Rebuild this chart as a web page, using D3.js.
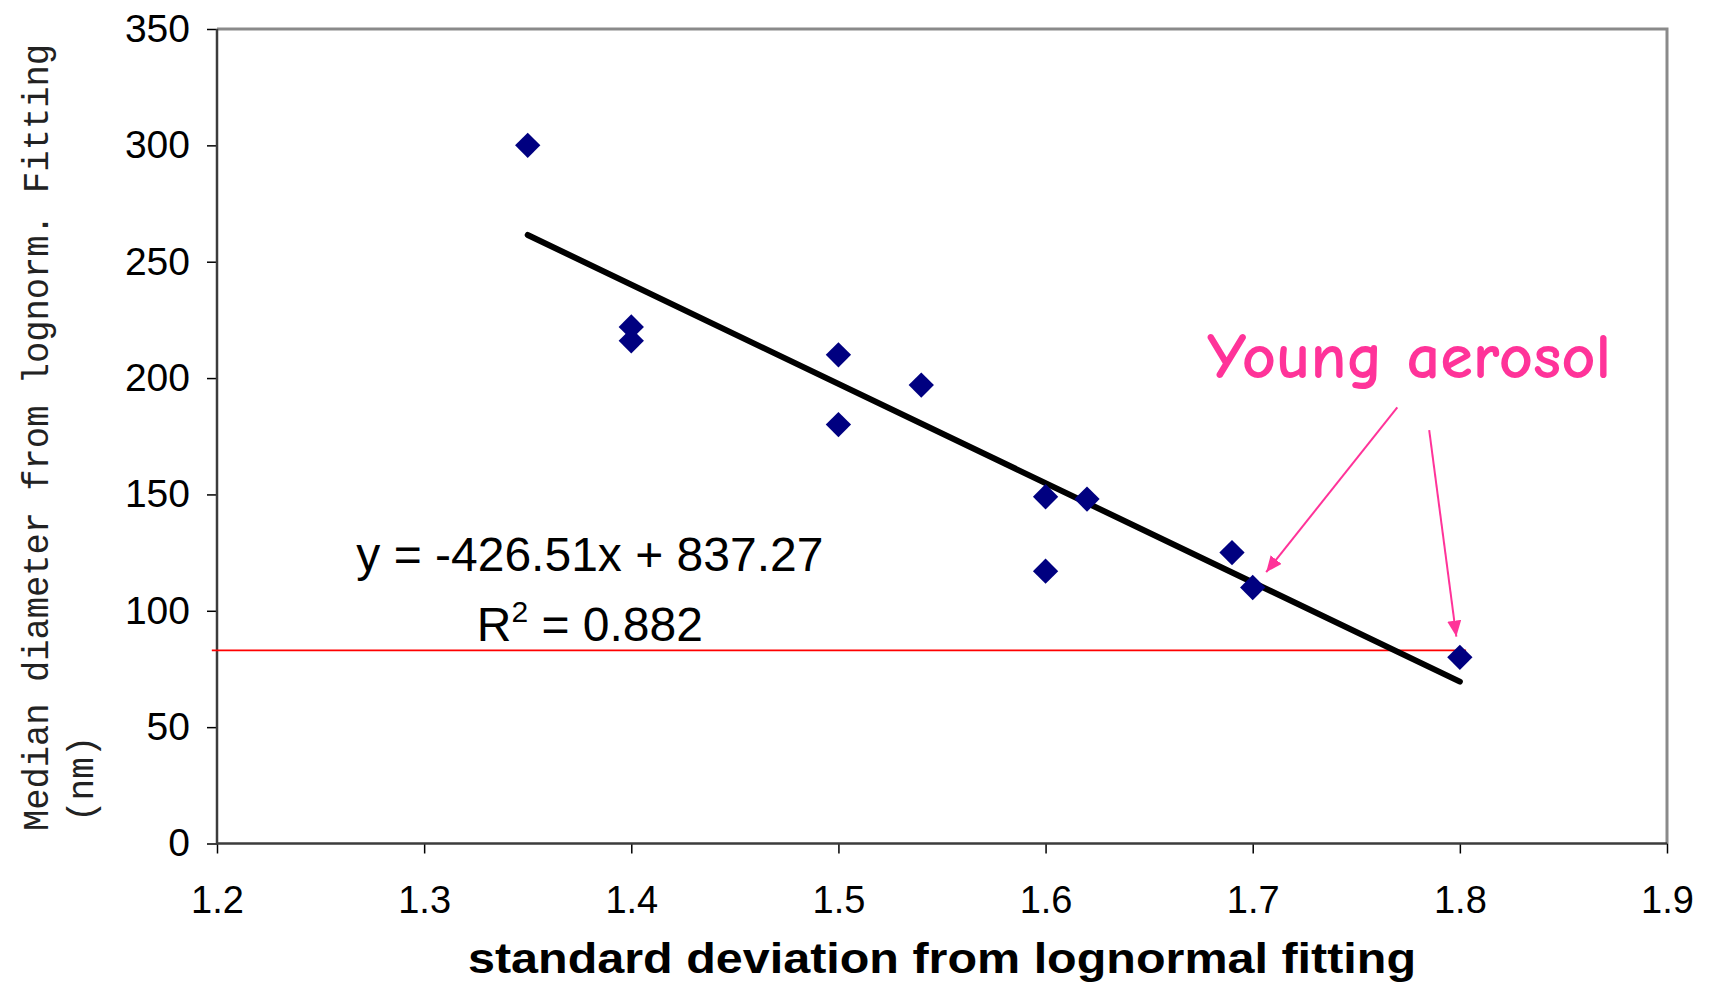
<!DOCTYPE html>
<html>
<head>
<meta charset="utf-8">
<script src="https://cdn.jsdelivr.net/npm/d3@7/dist/d3.min.js"></script>
<style>
  body { margin: 0; background: #fff; }
  svg { display: block; }
</style>
</head>
<body>
<div id="chart"></div>
<script>
// data
const sigma    = [1.35, 1.40, 1.40, 1.50, 1.50, 1.54, 1.60, 1.62, 1.60, 1.69, 1.70, 1.80];
const diameter = [300, 222, 216, 210, 180, 197, 149, 148, 117, 125, 110, 80];

const xTicks = [1.2, 1.3, 1.4, 1.5, 1.6, 1.7, 1.8, 1.9];
const yTicks = [0, 50, 100, 150, 200, 250, 300, 350];

// trend line from the fitted equation, drawn over the data range
const slope = -426.51, intercept = 837.27;
const trendX = [1.35, 1.80];

// red reference line (value, x extent)
const refValue = 83;
const refX = [1.1975, 1.803];

// annotation arrows, [start, tip] in data units
const arrows = [
  [[1.7698, 187.4], [1.7065, 116.6]],
  [[1.7852, 177.6], [1.7983, 88.9]]
];

const W = 1714, H = 986;
const svg = d3.select("#chart").append("svg").attr("width", W).attr("height", H);

const x = d3.scaleLinear().domain([1.2, 1.9]).range([217, 1667]);
const y = d3.scaleLinear().domain([0, 350]).range([843.5, 29]);

const FONT = "'Liberation Sans', Arial, sans-serif";

// plot frame: grey top/right
svg.append("path")
  .attr("d", `M${x(1.2)},${y(350)}H${x(1.9)}V${y(0)}`)
  .attr("fill", "none").attr("stroke", "#8a8a8a").attr("stroke-width", 3);

// axes
const gx = svg.append("g").attr("transform", `translate(0,${y(0)})`)
  .call(d3.axisBottom(x).tickValues(xTicks).tickSize(10).tickPadding(33).tickFormat(d3.format(".1f")));
const gy = svg.append("g").attr("transform", `translate(${x(1.2)},0)`)
  .call(d3.axisLeft(y).tickValues(yTicks).tickSize(10).tickPadding(17).tickFormat(d3.format("d")));

[gx, gy].forEach(g => {
  g.select(".domain").remove();
  g.selectAll(".tick line").attr("stroke", "#000").attr("stroke-width", 1.5);
  g.selectAll(".tick text").attr("fill", "#000").style("font-family", FONT);
});
gx.selectAll(".tick text").style("font-size", "38px");
gy.selectAll(".tick text").style("font-size", "39px");

svg.append("path")
  .attr("d", `M${x(1.2)},${y(350)}V${y(0)}H${x(1.9)}`)
  .attr("fill", "none").attr("stroke", "#3c3c3c").attr("stroke-width", 2.5);

// red reference line
svg.append("line")
  .attr("x1", x(refX[0])).attr("x2", x(refX[1]))
  .attr("y1", y(refValue)).attr("y2", y(refValue))
  .attr("stroke", "#ff0000").attr("stroke-width", 1.6);

// trend line
svg.append("line")
  .attr("x1", x(trendX[0])).attr("y1", y(slope * trendX[0] + intercept))
  .attr("x2", x(trendX[1])).attr("y2", y(slope * trendX[1] + intercept))
  .attr("stroke", "#000").attr("stroke-width", 6).attr("stroke-linecap", "round");

// points (diamonds)
const diamond = d3.symbol().type(d3.symbolSquare).size(320);
svg.append("g").selectAll("path")
  .data(sigma.map((s, i) => [s, diameter[i]]))
  .join("path")
  .attr("d", diamond)
  .attr("transform", d => `translate(${x(d[0])},${y(d[1])}) rotate(45)`)
  .attr("fill", "#000080");

// equation text
const eq = svg.append("g").style("font-family", FONT).attr("fill", "#000");
eq.append("text")
  .attr("x", x(1.38)).attr("y", y(117))
  .attr("text-anchor", "middle").style("font-size", "48px")
  .text("y = -426.51x + 837.27");
const r2 = eq.append("text")
  .attr("x", x(1.38)).attr("y", y(87))
  .attr("text-anchor", "middle").style("font-size", "48px");
r2.append("tspan").text("R");
r2.append("tspan").attr("dy", -19).style("font-size", "30px").text("2");
r2.append("tspan").attr("dy", 19).text(" = 0.882");

// annotation
const pink = "#ff3399";
svg.append("defs").append("marker")
  .attr("id", "arrow").attr("viewBox", "0 0 16 14")
  .attr("refX", 16).attr("refY", 7)
  .attr("markerWidth", 16).attr("markerHeight", 14)
  .attr("markerUnits", "userSpaceOnUse").attr("orient", "auto")
  .append("path").attr("d", "M0,0L16,7L0,14Z").attr("fill", pink);

svg.append("g").selectAll("line")
  .data(arrows)
  .join("line")
  .attr("x1", d => x(d[0][0])).attr("y1", d => y(d[0][1]))
  .attr("x2", d => x(d[1][0])).attr("y2", d => y(d[1][1]))
  .attr("stroke", pink).attr("stroke-width", 2)
  .attr("marker-end", "url(#arrow)");

svg.append("text")
  .attr("x", x(1.678)).attr("y", y(200))
  .attr("fill", pink)
  .attr("textLength", 404).attr("lengthAdjust", "spacingAndGlyphs")
  .style("font-family", "'Comic Sans MS', 'Comic Neue', 'DejaVu Sans', sans-serif")
  .style("font-size", "64px").style("font-weight", "bold")
  .text("Young aerosol");

// axis titles
svg.append("text")
  .attr("x", (x(1.2) + x(1.9)) / 2).attr("y", 973)
  .attr("text-anchor", "middle")
  .style("font-family", FONT).style("font-size", "42px").style("font-weight", "bold")
  .attr("textLength", 948).attr("lengthAdjust", "spacingAndGlyphs")
  .text("standard deviation from lognormal fitting");

const mono = "'Liberation Mono', 'DejaVu Sans Mono', monospace";
svg.append("text")
  .attr("transform", "translate(48,831) rotate(-90)")
  .attr("fill", "#222")
  .attr("textLength", 787).attr("lengthAdjust", "spacingAndGlyphs")
  .style("font-family", mono).style("font-size", "36px")
  .text("Median diameter from lognorm. Fitting");
svg.append("text")
  .attr("transform", "translate(93,822) rotate(-90)")
  .attr("fill", "#222")
  .style("font-family", mono).style("font-size", "36px")
  .text("(nm)");
</script>
</body>
</html>
